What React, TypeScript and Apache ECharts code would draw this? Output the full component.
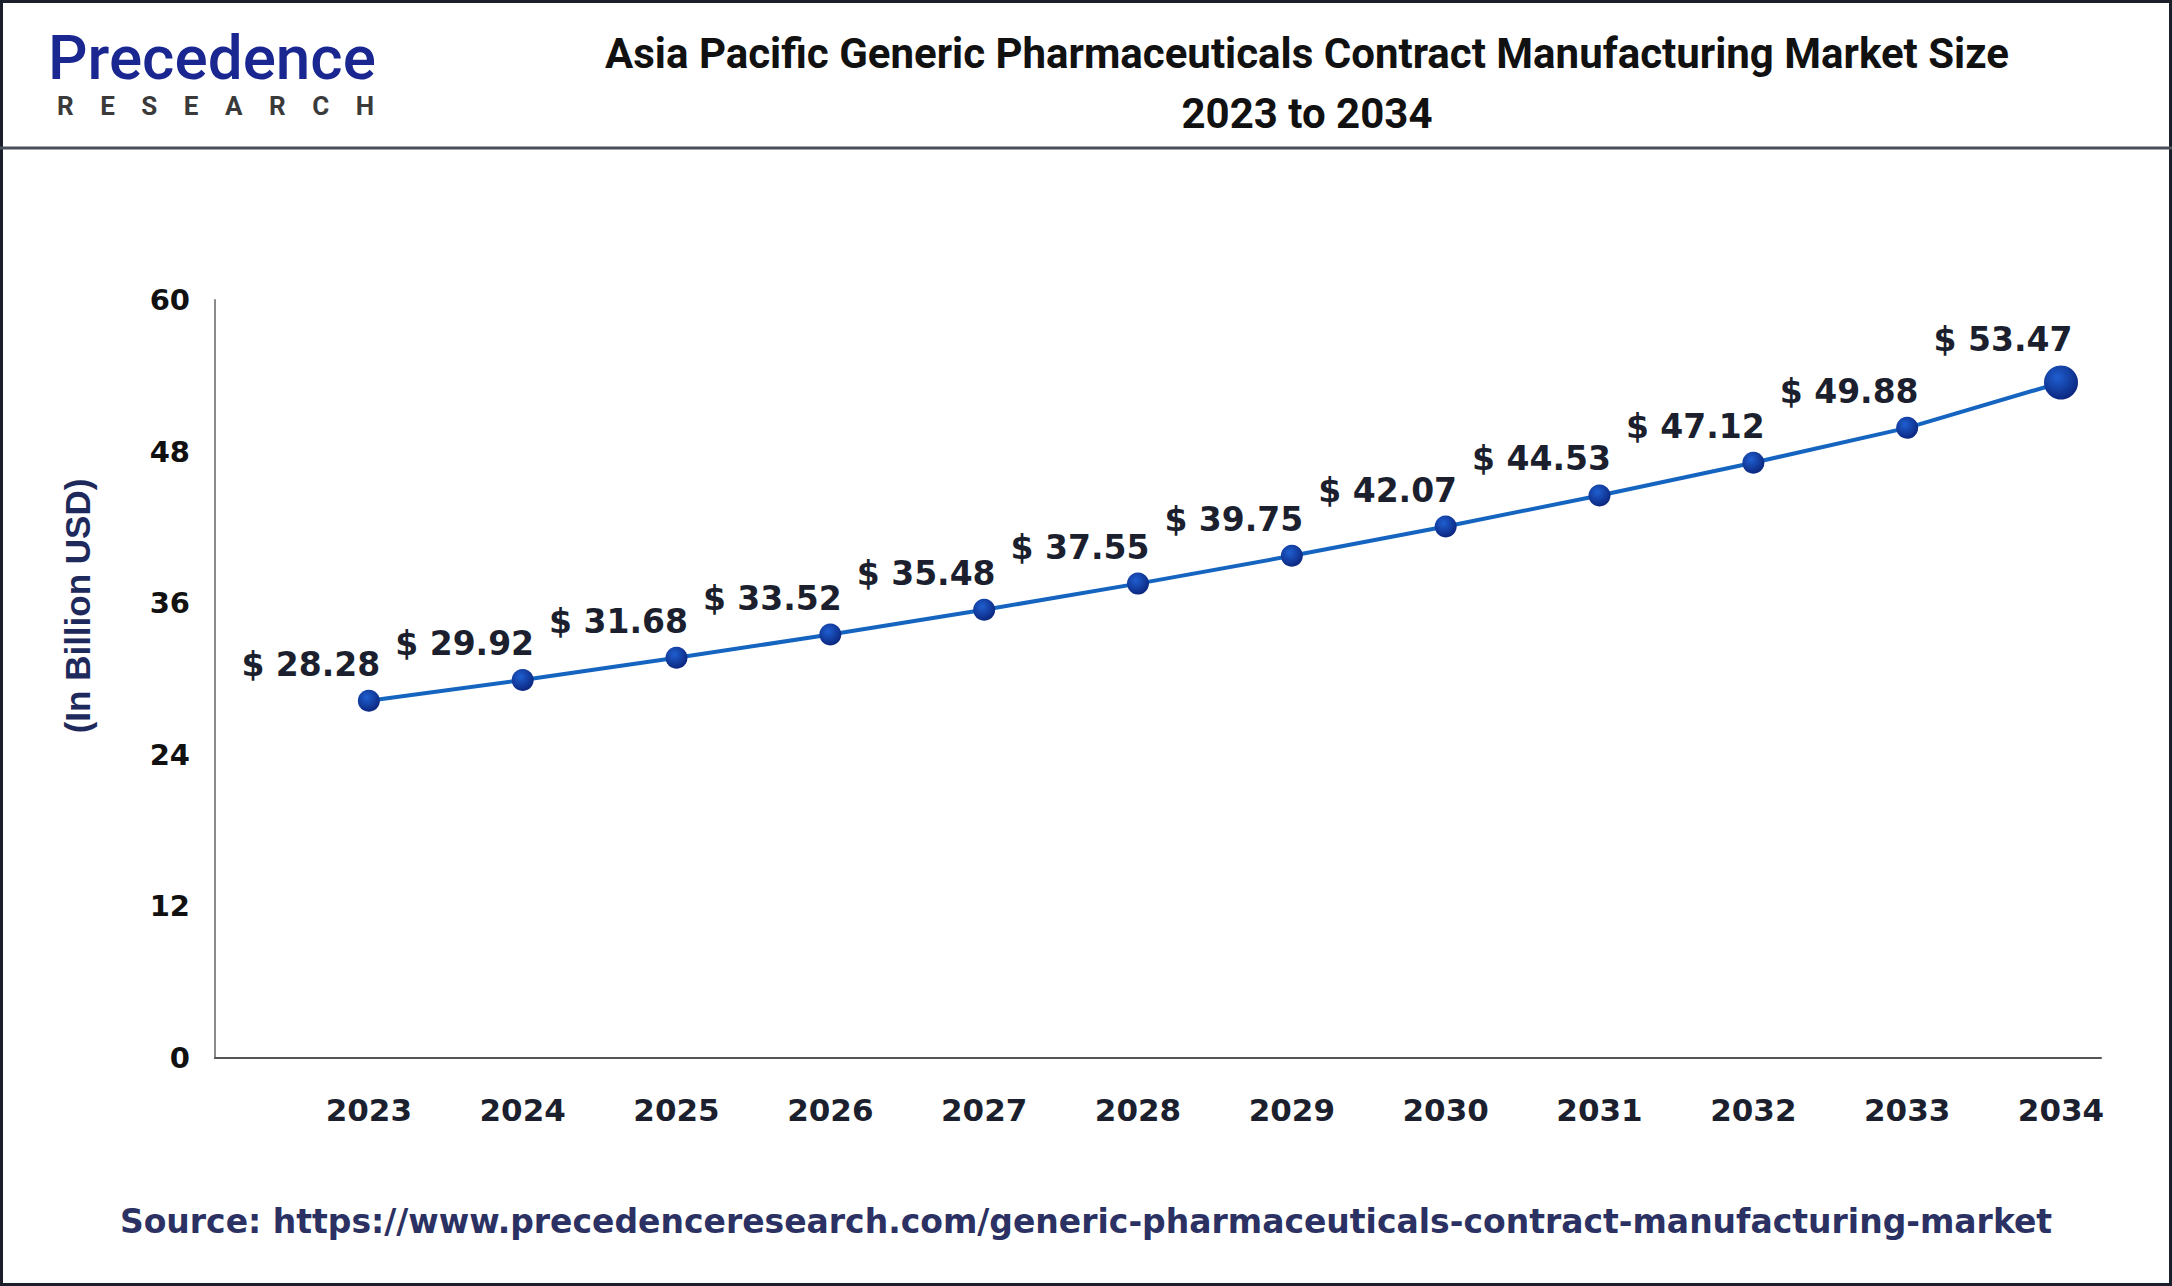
import React, { useEffect, useRef } from "react";
import * as echarts from "echarts";

const years = [2023, 2024, 2025, 2026, 2027, 2028, 2029, 2030, 2031, 2032, 2033, 2034];
const marketSize = [28.28, 29.92, 31.68, 33.52, 35.48, 37.55, 39.75, 42.07, 44.53, 47.12, 49.88, 53.47];
const yTicks = [0, 12, 24, 36, 48, 60];
const titleLines = [
  "Asia Pacific Generic Pharmaceuticals Contract Manufacturing Market Size",
  "2023 to 2034",
];
const yAxisName = "(In Billion USD)";
const sourceText =
  "Source: https://www.precedenceresearch.com/generic-pharmaceuticals-contract-manufacturing-market";

export default function App() {
  const ref = useRef<HTMLDivElement>(null);

  useEffect(() => {
    document.body.style.margin = "0";
    if (!ref.current) return;
    const chart = echarts.init(ref.current, undefined, { renderer: "svg" });

    const dotColor = new echarts.graphic.RadialGradient(0.4, 0.35, 0.7, [
      { offset: 0, color: "#1f5fd0" },
      { offset: 1, color: "#0a237a" },
    ]);

    const lastIdx = years.length - 1;
    const data = years.map((y, i) => ({
      value: [y, marketSize[i]],
      symbolSize: i === lastIdx ? 34 : 22,
    }));

    chart.setOption({
      animation: false,
      backgroundColor: "#ffffff",
      grid: { left: 215, right: 71, top: 300, bottom: 228 },
      xAxis: {
        type: "value",
        min: 2022,
        max: 2034.26,
        interval: 1,
        splitLine: { show: false },
        axisTick: { show: false },
        axisLine: { show: true, lineStyle: { color: "#555555", width: 2 } },
        axisLabel: {
          margin: 36,
          fontSize: 31,
          fontWeight: "bold",
          fontFamily: "DejaVu Sans",
          color: "#1b1f2e",
          formatter: (v: number) =>
            Number.isInteger(v) && v >= years[0] && v <= years[lastIdx] ? String(v) : "",
        },
      },
      yAxis: {
        type: "value",
        min: yTicks[0],
        max: yTicks[yTicks.length - 1],
        interval: yTicks[1] - yTicks[0],
        splitLine: { show: false },
        axisTick: { show: false },
        axisLine: { show: true, lineStyle: { color: "#8a8a8a", width: 2 } },
        axisLabel: {
          margin: 25,
          fontSize: 29,
          fontWeight: "bold",
          fontFamily: "DejaVu Sans",
          color: "#111111",
        },
      },
      series: [
        {
          type: "line",
          data,
          symbol: "circle",
          lineStyle: { color: "#1565c0", width: 4 },
          itemStyle: { color: dotColor },
          label: {
            show: true,
            position: "top",
            distance: 5,
            offset: [-58, -4],
            fontSize: 33,
            fontWeight: "bold",
            fontFamily: "DejaVu Sans",
            color: "#1b1f2e",
            formatter: (p: any) => "$ " + Number(p.value[1]).toFixed(2),
          },
        },
      ],
      graphic: [
        {
          type: "rect",
          shape: { x: 1.5, y: 1.5, width: 2169, height: 1283 },
          style: { fill: "none", stroke: "#1a1f2a", lineWidth: 3 },
          silent: true,
        },
        {
          type: "line",
          shape: { x1: 0, y1: 148, x2: 2172, y2: 148 },
          style: { stroke: "#4a4f5a", lineWidth: 3 },
          silent: true,
        },
        {
          type: "text",
          x: 1307,
          y: 53,
          style: {
            text: titleLines[0],
            align: "center",
            verticalAlign: "middle",
            fontSize: 42,
            fontWeight: "bold",
            fontFamily: "Roboto",
            fill: "#111111",
          },
        },
        {
          type: "text",
          x: 1307,
          y: 113,
          style: {
            text: titleLines[1],
            align: "center",
            verticalAlign: "middle",
            fontSize: 42,
            fontWeight: "bold",
            fontFamily: "Roboto",
            fill: "#111111",
          },
        },
        {
          type: "text",
          x: 1086,
          y: 1221,
          style: {
            text: sourceText,
            align: "center",
            verticalAlign: "middle",
            fontSize: 33,
            fontWeight: "bold",
            fontFamily: "DejaVu Sans",
            fill: "#2c3163",
          },
        },
        {
          type: "text",
          x: 77,
          y: 606,
          rotation: Math.PI / 2,
          style: {
            text: yAxisName,
            align: "center",
            verticalAlign: "middle",
            fontSize: 35,
            fontWeight: "bold",
            fontFamily: "Liberation Sans",
            fill: "#1f2a5c",
          },
        },
        {
          type: "text",
          x: 48,
          y: 57,
          style: {
            text: "Precedence",
            align: "left",
            verticalAlign: "middle",
            fontSize: 62,
            lineHeight: 52,
            fontWeight: 500,
            fontFamily: "Roboto",
            fill: "#1a2790",
          },
        },
        {
          type: "text",
          x: 57,
          y: 106,
          style: {
            text: "R\u2003E\u2003S\u2003E\u2003A\u2003R\u2003C\u2003H",
            align: "left",
            verticalAlign: "middle",
            fontSize: 26,
            lineHeight: 24,
            fontWeight: "bold",
            fontFamily: "Roboto",
            fill: "#3a3a3a",
          },
        },
      ],
    });

    return () => chart.dispose();
  }, []);

  return <div ref={ref} style={{ width: 2172, height: 1286 }} />;
}
